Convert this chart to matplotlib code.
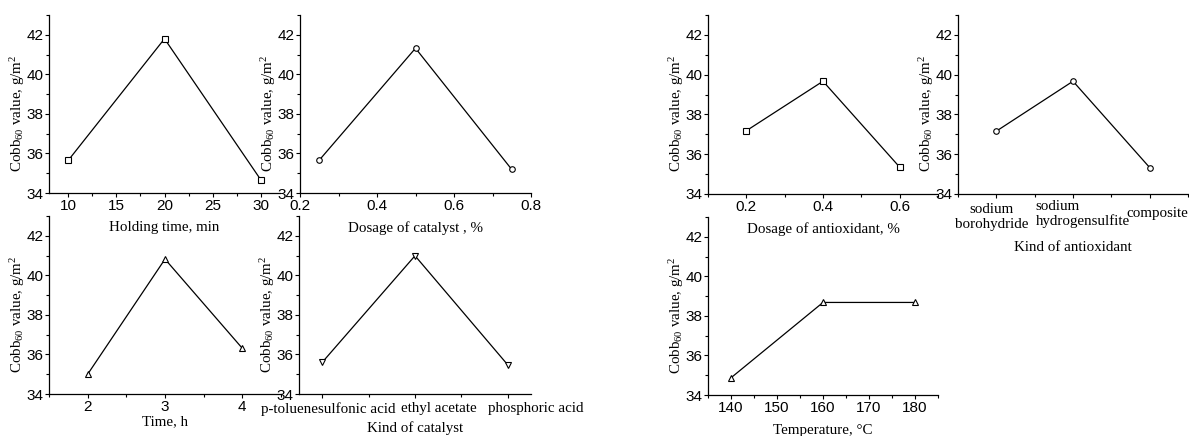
import matplotlib
matplotlib.use('Agg')
import matplotlib.pyplot as plt
from matplotlib.ticker import MultipleLocator
from matplotlib.transforms import ScaledTranslation

plt.rcParams['font.family'] = ['Liberation Sans', 'DejaVu Sans']
plt.rcParams['mathtext.fontset'] = 'custom'
plt.rcParams['mathtext.rm'] = 'Liberation Serif'
plt.rcParams['mathtext.it'] = 'Liberation Serif:italic'

# data
holding_time = [10, 20, 30]
cobb_holding = [35.65, 41.8, 34.67]

catalyst_dose = [0.25, 0.5, 0.75]
cobb_cat_dose = [35.66, 41.32, 35.19]

time_h = [2, 3, 4]
cobb_time = [35.0, 40.82, 36.31]

catalyst_kinds = ['p-toluenesulfonic acid', 'ethyl acetate', 'phosphoric acid']
cobb_cat_kind = [35.6, 40.99, 35.47]

antiox_dose = [0.2, 0.4, 0.6]
cobb_antiox_dose = [37.18, 39.67, 35.35]

antiox_kinds = ['sodium\nborohydride', 'sodium\nhydrogensulfite', 'composite']
cobb_antiox_kind = [37.16, 39.67, 35.33]

temperature = [140, 160, 180]
cobb_temp = [34.87, 38.68, 38.68]

W, H = 1189, 436
fig = plt.figure(figsize=(W / 100, H / 100), dpi=100)

serif = ['Liberation Serif', 'DejaVu Serif']
ylab = 'Cobb$_{60}$ value, g/m$^2$'
LAB = 10.8


def make_ax(l, r, t, b):
    ax = fig.add_axes([l / W, 1 - b / H, (r - l) / W, (b - t) / H])
    ax.patch.set_visible(False)
    for s in ['top', 'right']:
        ax.spines[s].set_visible(False)
    for s in ['left', 'bottom']:
        ax.spines[s].set_linewidth(0.9)
    ax.set_ylim(34, 43)
    ax.yaxis.set_major_locator(MultipleLocator(2))
    ax.yaxis.set_minor_locator(MultipleLocator(1))
    ax.tick_params(which='major', direction='out', length=3, width=0.8,
                   pad=1, labelsize=11)
    ax.tick_params(which='minor', direction='out', length=2, width=0.8)
    ax.set_ylabel(ylab, fontsize=LAB, family=serif)
    ax.yaxis.set_label_coords(-31 / (r - l), (b - t - 98) / (b - t))
    ax.yaxis.label.set_va('center')
    return ax


def put_xlabel(ax, text, off, height):
    ax.set_xlabel(text, fontsize=LAB, family=serif)
    ax.xaxis.set_label_coords(0.5, -off / height)
    ax.xaxis.label.set_va('center')


def shift_labels(ax, dxs, dys):
    for lab, dx, dy in zip(ax.get_xticklabels(), dxs, dys):
        lab.set_transform(lab.get_transform() +
                          ScaledTranslation(dx / 100, dy / 100, fig.dpi_scale_trans))


def line(ax, x, y, m):
    ax.plot(x, y, color='black', lw=0.9, marker=m, ms=4, mfc='white',
            mec='black', mew=0.8)


# left group
ax1 = make_ax(49, 280, 15, 193)
line(ax1, holding_time, cobb_holding, 's')
ax1.set_xlim(8, 32)
ax1.xaxis.set_major_locator(MultipleLocator(5))
ax1.xaxis.set_minor_locator(MultipleLocator(2.5))
put_xlabel(ax1, 'Holding time, min', 35, 178)

ax2 = make_ax(300, 531, 15, 193)
line(ax2, catalyst_dose, cobb_cat_dose, 'o')
ax2.set_xlim(0.2, 0.8)
ax2.xaxis.set_major_locator(MultipleLocator(0.2))
ax2.xaxis.set_minor_locator(MultipleLocator(0.1))
put_xlabel(ax2, 'Dosage of catalyst , %', 35, 178)

ax3 = make_ax(49, 281, 216, 394)
line(ax3, time_h, cobb_time, '^')
ax3.set_xlim(1.5, 4.5)
ax3.xaxis.set_major_locator(MultipleLocator(1))
ax3.xaxis.set_minor_locator(MultipleLocator(0.5))
put_xlabel(ax3, 'Time, h', 28, 178)

ax4 = make_ax(299, 531, 216, 394)
pos4 = list(range(1, len(catalyst_kinds) + 1))
line(ax4, pos4, cobb_cat_kind, 'v')
ax4.set_xlim(0.75, 3.25)
ax4.set_xticks(pos4)
ax4.set_xticklabels(catalyst_kinds, family=serif, fontsize=LAB)
ax4.xaxis.set_minor_locator(MultipleLocator(0.5))
shift_labels(ax4, [6, 24, 28], [-3, -2, -2])
put_xlabel(ax4, 'Kind of catalyst', 34, 178)

# right group
ax5 = make_ax(708, 938, 15, 194)
line(ax5, antiox_dose, cobb_antiox_dose, 's')
ax5.set_xlim(0.1, 0.7)
ax5.xaxis.set_minor_locator(MultipleLocator(0.1))
ax5.set_xticks(antiox_dose)
put_xlabel(ax5, 'Dosage of antioxidant, %', 35, 179)

ax6 = make_ax(958, 1188, 15, 194)
pos6 = list(range(1, len(antiox_kinds) + 1))
line(ax6, pos6, cobb_antiox_kind, 'o')
ax6.set_xlim(0.5, 3.5)
ax6.set_xticks(pos6)
ax6.set_xticklabels(antiox_kinds, family=serif, fontsize=LAB, linespacing=1.2)
ax6.xaxis.set_minor_locator(MultipleLocator(0.5))
ax6.tick_params(axis='x', which='major', pad=15)
for lab in ax6.get_xticklabels():
    lab.set_va('center')
ax6.get_xticklabels()[1].set_multialignment('left')
shift_labels(ax6, [-5, 10, 8], [2, 5, 6])
put_xlabel(ax6, 'Kind of antioxidant', 53, 179)

ax7 = make_ax(708, 938, 217, 395)
line(ax7, temperature, cobb_temp, '^')
ax7.set_xlim(135, 185)
ax7.xaxis.set_major_locator(MultipleLocator(10))
ax7.xaxis.set_minor_locator(MultipleLocator(5))
put_xlabel(ax7, 'Temperature, °C', 35, 178)

fig.savefig('out.png', dpi=100)
